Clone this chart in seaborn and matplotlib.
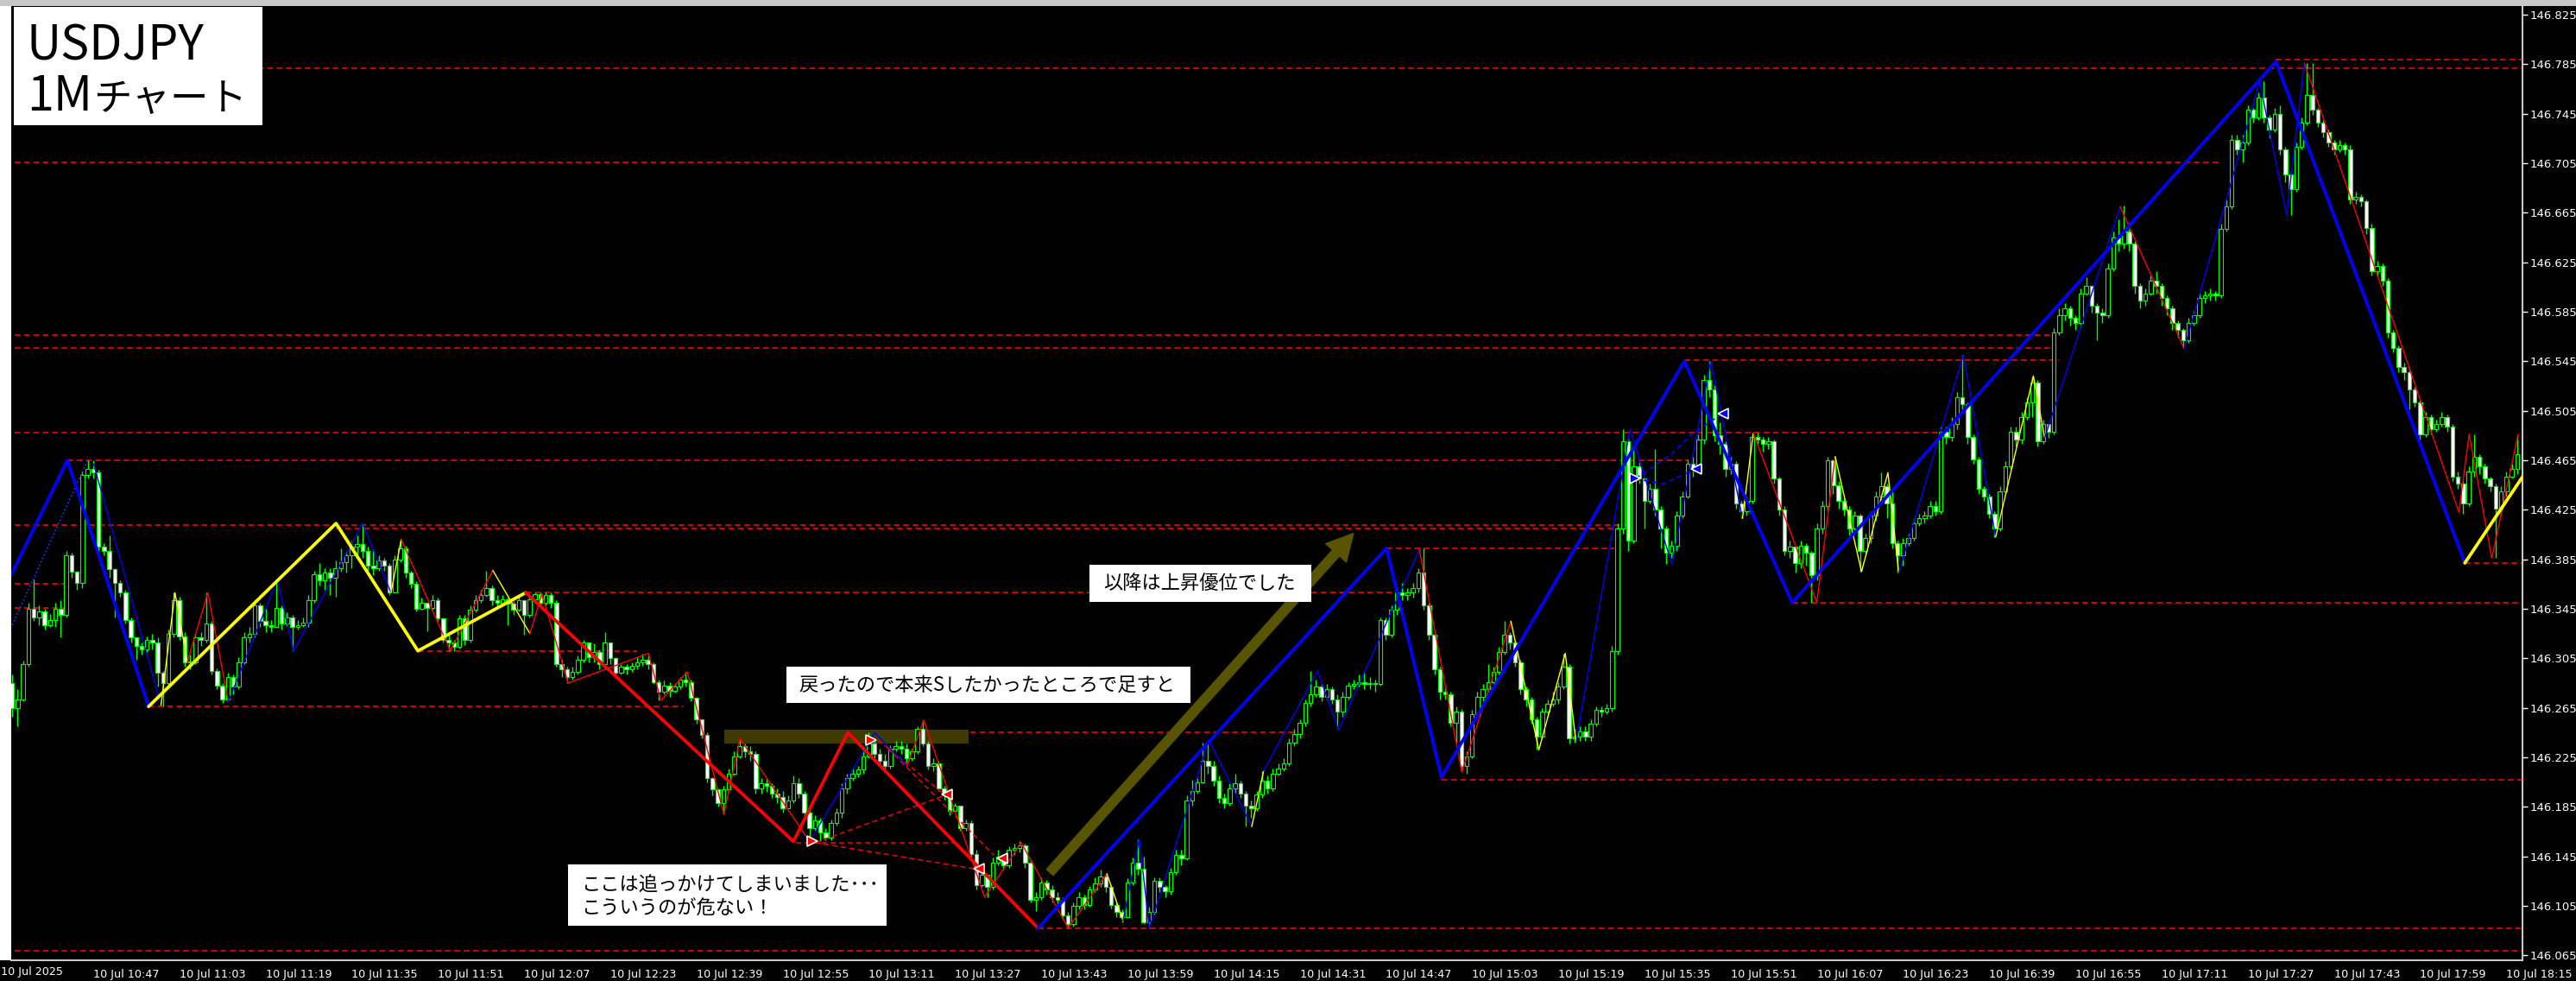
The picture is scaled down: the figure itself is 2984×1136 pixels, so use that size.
import matplotlib
matplotlib.use("Agg")
import matplotlib.pyplot as plt
from matplotlib.patches import Rectangle
import numpy as np
import pandas as pd
import seaborn as sns

# ---------------- data : prices in 0.001 JPY above 146.000 ----------------
BASE = 146.0
open_first = 290
close_k = [
    285,265,272,300,345,338,343,332,336,345,
    340,388,375,366,453,458,455,395,392,377,
    366,358,336,322,315,312,320,318,293,285,
    325,352,323,302,302,322,320,333,295,283,
    272,290,282,302,322,325,348,335,332,330,
    346,333,338,330,332,334,352,373,368,374,
    370,378,383,388,395,397,392,380,378,384,
    380,358,385,394,374,365,345,350,346,352,
    337,320,318,314,337,320,344,352,356,362,
    352,350,353,349,344,352,340,353,357,350,
    356,350,300,296,290,294,304,318,306,310,
    300,318,305,293,298,296,299,302,304,300,
    286,278,283,279,282,288,286,273,256,243,
    208,199,188,199,212,226,234,230,228,200,
    204,202,196,193,184,190,204,196,180,168,
    174,164,160,172,180,200,208,212,215,226,
    236,228,222,218,232,234,232,224,230,248,
    236,218,220,200,196,182,186,168,172,147,
    122,130,120,140,145,138,150,152,154,140,
    110,112,124,118,112,110,97,90,105,112,
    106,118,123,129,120,106,100,96,124,140,
    135,92,100,125,120,117,132,146,143,190,
    198,205,222,218,206,192,188,200,204,196,
    186,184,195,206,200,212,216,220,237,244,
    253,269,276,282,274,280,272,262,274,283,
    284,286,284,285,284,336,324,344,358,356,
    358,362,374,348,324,296,278,276,253,262,
    218,226,260,274,280,286,294,310,324,318,
    302,280,272,256,242,262,268,272,282,298,
    240,242,246,242,252,263,262,265,311,410,
    480,400,460,450,432,442,425,410,390,396,
    420,436,462,458,482,530,522,485,478,458,
    462,430,424,432,484,482,478,480,450,425,
    392,395,382,396,390,372,410,428,465,445,
    432,425,410,420,392,402,420,436,444,430,
    398,388,398,402,414,418,420,428,424,488,
    484,494,516,510,484,466,442,436,422,410,
    440,460,488,482,500,512,528,480,494,488,
    568,582,588,580,576,600,606,590,584,582,
    620,645,640,650,640,606,594,600,610,606,
    596,588,576,570,562,576,582,596,598,600,
    598,652,670,724,716,722,748,742,758,742,
    732,745,716,696,684,718,738,760,748,738,
    730,722,716,720,716,676,678,674,653,618,
    622,610,568,556,540,536,522,512,486,500,
    490,494,500,492,452,446,430,456,468,460,
    450,444,426,440,452,458,470,
]
high_k = [
    292,292,280,303,350,369,348,345,341,350,
    352,392,390,376,456,465,465,457,398,404,
    378,368,360,338,322,318,323,325,322,295,
    328,358,355,326,308,325,326,358,335,297,
    285,293,292,306,326,330,352,350,345,336,
    369,348,342,340,336,338,356,376,382,378,
    378,384,394,392,400,404,414,395,394,388,
    386,382,388,400,396,376,367,354,350,356,
    354,338,324,320,340,340,348,356,360,376,
    364,356,356,354,351,356,352,356,358,358,
    358,358,352,304,298,298,307,320,318,317,
    312,326,318,306,300,300,302,306,309,308,
    302,288,287,286,285,290,294,288,274,256,
    245,209,200,202,216,230,240,236,234,230,
    208,208,204,200,198,194,210,208,198,182,
    178,176,168,175,184,204,212,216,218,234,
    245,238,232,228,235,238,238,236,232,250,
    255,238,224,222,202,198,188,186,175,174,
    150,134,130,144,150,146,153,155,157,155,
    142,116,128,126,122,116,112,100,108,116,
    114,121,128,134,130,122,108,102,127,144,
    159,145,104,128,128,122,136,150,150,194,
    207,208,237,237,222,210,196,204,212,206,
    198,190,198,214,210,216,220,224,240,248,
    256,272,295,288,285,284,282,276,278,286,
    288,292,295,290,288,338,338,348,362,366,
    362,366,378,394,350,326,298,282,278,266,
    264,230,263,278,284,300,298,314,335,326,
    320,304,282,274,258,265,272,278,286,309,
    300,248,250,250,256,266,266,268,315,414,
    490,484,476,464,452,446,474,428,412,400,
    424,440,466,468,486,534,545,526,496,480,
    468,464,432,436,487,487,484,484,482,452,
    428,400,396,400,398,392,414,432,468,466,
    448,434,428,424,422,406,424,440,455,446,
    440,400,402,406,418,422,424,432,432,492,
    492,500,520,550,512,486,468,444,438,424,
    444,464,492,492,504,516,533,530,498,494,
    572,588,592,590,582,604,613,606,592,588,
    624,650,660,671,652,642,608,604,614,618,
    608,598,590,578,572,580,586,600,602,604,
    602,656,676,728,728,728,752,750,762,771,
    744,750,752,718,698,722,742,786,786,750,
    740,732,724,724,722,720,682,680,676,656,
    626,624,612,570,558,544,540,524,514,504,
    502,498,504,502,494,456,448,460,486,470,
    462,452,446,444,456,462,486,
]
low_k = [
    278,258,250,270,298,335,332,328,330,330,
    322,338,370,360,362,450,450,392,388,370,
    338,355,333,318,304,308,310,312,282,266,
    283,322,320,298,296,300,315,318,292,280,
    269,270,276,280,300,318,322,330,326,326,
    330,328,331,311,328,330,330,350,364,360,
    356,355,375,374,378,386,386,376,372,376,
    376,356,358,383,370,362,343,344,327,344,
    335,318,311,311,313,316,318,342,350,355,
    348,347,348,332,340,343,324,338,350,346,
    348,346,298,290,285,288,292,302,302,302,
    296,296,300,290,292,292,294,296,299,296,
    284,271,276,274,277,280,282,270,252,240,
    205,194,185,179,197,210,224,225,222,196,
    196,197,192,188,180,184,188,192,176,157,
    166,157,158,158,170,176,196,206,209,212,
    224,224,218,213,216,230,228,220,222,228,
    234,215,214,198,191,178,180,166,166,145,
    118,120,112,118,138,134,136,146,148,136,
    108,101,110,114,108,104,94,87,88,102,
    102,104,116,120,116,103,96,92,95,122,
    130,90,87,98,116,112,114,130,138,142,
    186,196,204,212,202,188,184,186,196,192,
    169,176,182,192,196,198,210,214,218,234,
    240,250,266,274,270,272,268,248,258,272,
    280,282,280,280,278,283,320,322,340,352,
    352,354,358,344,320,292,272,272,250,237,
    214,212,224,258,270,278,284,292,308,312,
    298,276,266,252,231,240,258,266,268,280,
    236,237,238,238,238,250,258,260,262,308,
    406,392,398,446,410,430,420,394,381,386,
    392,418,434,452,456,478,516,480,470,452,
    454,426,418,420,430,478,472,474,446,420,
    388,386,374,378,380,350,368,406,424,438,
    426,420,404,408,375,388,398,416,432,418,
    394,374,380,396,400,412,414,418,420,422,
    478,480,490,506,478,462,438,432,418,403,
    408,438,458,476,478,498,500,476,478,483,
    486,566,578,574,570,572,598,584,562,576,
    580,618,634,636,634,600,588,590,598,600,
    590,582,570,564,556,560,574,580,592,594,
    594,596,650,668,712,706,720,738,740,738,
    725,730,712,690,663,682,716,736,744,734,
    726,718,712,714,712,672,672,670,648,614,
    614,606,564,552,536,530,506,508,482,484,
    486,488,492,488,448,442,422,428,452,454,
    446,440,386,420,436,450,454,
]

time_labels = ["10 Jul 2025", "10 Jul 10:47", "10 Jul 11:03", "10 Jul 11:19", "10 Jul 11:35",
               "10 Jul 11:51", "10 Jul 12:07", "10 Jul 12:23", "10 Jul 12:39", "10 Jul 12:55",
               "10 Jul 13:11", "10 Jul 13:27", "10 Jul 13:43", "10 Jul 13:59", "10 Jul 14:15",
               "10 Jul 14:31", "10 Jul 14:47", "10 Jul 15:03", "10 Jul 15:19", "10 Jul 15:35",
               "10 Jul 15:51", "10 Jul 16:07", "10 Jul 16:23", "10 Jul 16:39", "10 Jul 16:55",
               "10 Jul 17:11", "10 Jul 17:27", "10 Jul 17:43", "10 Jul 17:59", "10 Jul 18:15"]
time_tick_bars = [0, 16, 32, 48, 64, 80, 96, 112, 128, 144, 160, 176, 192, 208, 224,
                  240, 256, 272, 288, 304, 320, 336, 352, 368, 384, 400, 416, 432, 448, 464]
price_labels = ["146.065", "146.105", "146.145", "146.185", "146.225", "146.265", "146.305",
                "146.345", "146.385", "146.425", "146.465", "146.505", "146.545", "146.585",
                "146.625", "146.665", "146.705", "146.745", "146.785", "146.825"]

# horizontal support / resistance levels: price, first bar, last bar
level_price = [146.069, 146.087, 146.207, 146.245, 146.266, 146.311, 146.358, 146.346,
               146.365, 146.394, 146.413, 146.410, 146.465, 146.487, 146.546, 146.556,
               146.566, 146.706, 146.782, 146.789, 146.350, 146.382]
level_from = [1.4, 191.3, 266.3, 156.2, 26.3, 76.3, 96.3, 1.4,
              1.4, 256.1, 1.4, 61.1, 11.2, 1.4, 311.4, 1.4,
              1.4, 1.4, 1.4, 421.2, 331.4, 456.3]
level_to = [467, 467, 467, 239.6, 125.5, 117.0, 258.3, 10.7,
            10.7, 298.4, 300.8, 300.8, 312.0, 360.3, 380.9, 380.1,
            380.1, 410.6, 467, 467, 467, 467]

# higher-timeframe zigzag (bar, price)
thick_zigzag = [
    ("#0000ff", [-1.3, 11.2, 26.3], [146.354, 146.465, 146.266]),
    ("#ffff00", [26.3, 61.1, 76.3, 96.3], [146.266, 146.414, 146.311, 146.358]),
    ("#ff0000", [96.3, 146.0, 156.1, 191.4], [146.358, 146.157, 146.245, 146.087]),
    ("#0000ff", [191.4, 256.1, 266.3, 311.4, 331.4, 421.2, 456.3],
     [146.087, 146.394, 146.209, 146.545, 146.350, 146.787, 146.382]),
    ("#ffff00", [456.3, 468.3], [146.382, 146.460]),
]
# lower-timeframe zigzag (bar, price in 0.001 above 146)
thin_zigzag = [
    ("#0000ff", [(16.1, 462), (28.6, 267)]),
    ("#ffff00", [(28.6, 267), (31.2, 358), (33.5, 302)]),
    ("#ff0000", [(33.5, 302), (37.3, 358), (41.1, 270)]),
    ("#0000ff", [(41.1, 270), (50.2, 369), (53.2, 311), (66.0, 414), (71.3, 358)]),
    ("#ffff00", [(71.3, 358), (73.2, 401)]),
    ("#ff0000", [(73.2, 401), (82.3, 311), (90.2, 376)]),
    ("#ffff00", [(90.2, 376), (97.1, 325)]),
    ("#ff0000", [(97.1, 325), (99.3, 357), (104.2, 285), (119.1, 309), (121.4, 271),
                 (126.3, 294), (133.1, 179), (136.1, 240), (149.0, 157)]),
    ("#0000ff", [(149.0, 157), (161.1, 245), (167.1, 218)]),
    ("#ff0000", [(167.1, 218), (170.2, 255), (181.5, 112), (188.3, 156), (197.0, 87), (204.2, 131)]),
    ("#ffff00", [(204.2, 131), (207.2, 93)]),
    ("#0000ff", [(207.2, 93), (210.2, 159), (212.1, 87), (223.1, 239), (231.1, 169)]),
    ("#ffff00", [(231.1, 169), (233.3, 214)]),
    ("#0000ff", [(233.3, 214), (243.3, 295), (247.2, 247), (262.2, 393)]),
    ("#ff0000", [(262.2, 393), (270.1, 213), (279.2, 335)]),
    ("#ffff00", [(279.2, 335), (284.4, 231), (289.3, 309), (291.3, 237)]),
    ("#0000ff", [(291.3, 237), (301.3, 490), (309.1, 381), (316.3, 545), (322.2, 418)]),
    ("#ffff00", [(322.2, 418), (324.2, 487)]),
    ("#ff0000", [(324.2, 487), (336.0, 350), (339.4, 468)]),
    ("#ffff00", [(339.4, 468), (344.3, 375), (349.2, 455), (351.2, 374)]),
    ("#0000ff", [(351.2, 374), (363.2, 550), (369.2, 403)]),
    ("#ffff00", [(369.2, 403), (376.2, 533), (378.3, 483)]),
    ("#0000ff", [(378.3, 483), (392.3, 670)]),
    ("#ff0000", [(392.3, 670), (404.2, 555)]),
    ("#0000ff", [(404.2, 555), (418.2, 771), (423.2, 663), (426.5, 786)]),
    ("#ff0000", [(426.5, 786), (455.2, 423), (457.1, 486), (461.3, 386), (466.2, 486)]),
]
dotted_blue = [(1.0, 332), (15.0, 465)]

# trade-plan dashed lines (bar0, price0, bar1, price1)
trade_lines = [(146.4, 146.156, 175.8, 146.156), (150.1, 146.156, 174.0, 146.194),
               (150.1, 146.156, 179.5, 146.135), (161.7, 146.239, 174.0, 146.195),
               (163.6, 146.232, 183.2, 146.146)]
blue_dashed_paths = [[(302.3, 146.450), (307.5, 146.446), (313.6, 146.458)],
                     [(302.3, 146.450), (309.0, 146.470), (313.0, 146.487), (318.6, 146.503)]]
markers_right_red = [(149.5, 146.157), (160.5, 146.239)]
markers_left_red = [(174.6, 146.195), (180.5, 146.135), (184.7, 146.143)]
markers_right_blue = [(302.3, 146.450)]
markers_left_blue = [(313.6, 146.458), (318.6, 146.503)]

zone_bars = (133.1, 178.5)
zone_prices = (146.236, 146.247)
arrow_start = (193.6, 146.132)
arrow_end = (250.0, 146.406)

title_line1 = "USDJPY"
title_line2_latin = "1M"
title_line2_kana = "チャート"
note_add = "戻ったので本来Sしたかったところで足すと"
note_up = "以降は上昇優位でした"
note_chase = ["ここは追っかけてしまいました･･･", "こういうのが危ない！"]

# ---------------- figure ----------------
W, H, DPI = 2984, 1136, 100
sns.set_style("dark", {"axes.facecolor": "black", "figure.facecolor": "black",
                       "axes.grid": False})
plt.rcParams["font.family"] = ["Noto Sans CJK JP", "DejaVu Sans"]

fig = plt.figure(figsize=(W / DPI, H / DPI), dpi=DPI, facecolor="black")
AX_L, AX_R, AX_T, AX_B = 13, 2922, 7, 1112
ax = fig.add_axes([AX_L / W, (H - AX_B) / H, (AX_R - AX_L) / W, (AX_B - AX_T) / H])
ax.set_facecolor("black")
ax.set_xlim(0.8, 467.0)
ax.set_ylim(146.061, 146.832)

n = min(len(close_k), len(high_k), len(low_k))
c = BASE + np.array(close_k[:n]) / 1000.0
hi = BASE + np.array(high_k[:n]) / 1000.0
lo = BASE + np.array(low_k[:n]) / 1000.0
o = np.concatenate([[BASE + open_first / 1000.0], c[:-1]])
df = pd.DataFrame({"bar": np.arange(n), "open": o, "high": hi, "low": lo, "close": c})

GREEN = "#00ff00"
# support / resistance levels
for p, a, b in zip(level_price, level_from, level_to):
    ax.hlines(p, a, b, colors="#e60000", linestyles=(0, (3.6, 2.4)), lw=1.3, zorder=1)

# resistance zone
ax.add_patch(Rectangle((zone_bars[0], zone_prices[0]), zone_bars[1] - zone_bars[0],
                       zone_prices[1] - zone_prices[0], color="#3e3a00", zorder=1.5, lw=0))

# candles
ax.vlines(df["bar"], df["low"], df["high"], color=GREEN, lw=1.0, zorder=3)
bottom = np.minimum(df["open"], df["close"])
height = np.maximum(np.abs(df["close"] - df["open"]), 0.0003)
fill = np.where(df["close"] < df["open"], "white", "black")
ax.bar(df["bar"], height, bottom=bottom, width=0.72, color=fill, edgecolor=GREEN,
       linewidth=0.8, zorder=4)

# trade lines
for x0, y0, x1, y1 in trade_lines:
    ax.plot([x0, x1], [y0, y1], color="#e60000", ls=(0, (3.6, 2.4)), lw=1.2, zorder=5)
for path in blue_dashed_paths:
    xs, ys = zip(*path)
    ax.plot(xs, ys, color="#0000ff", ls=(0, (3.6, 2.4)), lw=1.2, zorder=5)

# thin zigzag
for col, pts in thin_zigzag:
    xs = [q[0] for q in pts]
    ys = [BASE + q[1] / 1000.0 for q in pts]
    sns.lineplot(x=xs, y=ys, sort=False, estimator=None, color=col, linewidth=1.0,
                 ax=ax, zorder=6)
xs = [q[0] for q in dotted_blue]
ys = [BASE + q[1] / 1000.0 for q in dotted_blue]
sns.lineplot(x=xs, y=ys, sort=False, estimator=None, color="#3030ff", linewidth=1.2,
             linestyle=":", ax=ax, zorder=6)

# olive arrow
ax.annotate("", xy=arrow_end, xytext=arrow_start,
            arrowprops=dict(arrowstyle="simple,head_length=1.1,head_width=1.15,tail_width=0.38",
                            color="#585400", mutation_scale=20, shrinkA=0, shrinkB=0),
            zorder=6.5)

# thick zigzag
for col, xs, ys in thick_zigzag:
    sns.lineplot(x=xs, y=ys, sort=False, estimator=None, color=col, linewidth=2.7,
                 ax=ax, zorder=7)

# entry markers
for pts, mk, col in [(markers_right_red, ">", "#ff0000"), (markers_left_red, "<", "#ff0000"),
                     (markers_right_blue, ">", "#0000ff"), (markers_left_blue, "<", "#0000ff")]:
    xs, ys = zip(*pts)
    ax.plot(xs, ys, ls="none", marker=mk, ms=9, mfc=col, mec="white", mew=1.2, zorder=8)

# axes styling
for s in ["top", "left"]:
    ax.spines[s].set_visible(False)
for s in ["right", "bottom"]:
    ax.spines[s].set_color("#c8c8c8")
    ax.spines[s].set_linewidth(1.5)
ax.grid(False)
ax.yaxis.tick_right()
ax.set_yticks([float(t) for t in price_labels])
ax.set_yticklabels(price_labels, family="DejaVu Sans", fontsize=9.5, color="white")
ax.tick_params(axis="y", direction="out", length=4, width=1, colors="white", pad=2)
ax.set_xticks(time_tick_bars[1:])
ax.set_xticklabels(time_labels[1:], family="DejaVu Sans", fontsize=9.2, color="white", ha="left")
ax.tick_params(axis="x", direction="out", length=5, width=1, colors="white", pad=2)
ax.set_xlabel("")
ax.set_ylabel("")
fig.text(1 / W, 1 - 1119 / H, time_labels[0], family="DejaVu Sans", fontsize=9.2,
         color="white", ha="left", va="top")

# window chrome
fig.add_artist(Rectangle((0, 1 - AX_T / H), 1, AX_T / H, transform=fig.transFigure,
                         color="#c8c8c8", lw=0, zorder=10))
fig.add_artist(Rectangle((0, 1 - AX_B / H), AX_L / W, (AX_B - AX_T) / H,
                         transform=fig.transFigure, color="white", lw=0, zorder=10))


def box(x0, y0, x1, y1):
    fig.add_artist(Rectangle((x0 / W, 1 - y1 / H), (x1 - x0) / W, (y1 - y0) / H,
                             transform=fig.transFigure, facecolor="white",
                             edgecolor="none", zorder=11))


def label(x, y, s, size, va="center"):
    return fig.text(x / W, 1 - y / H, s, fontsize=size, color="black", ha="left", va=va,
                    zorder=12, family=["Noto Sans CJK JP", "DejaVu Sans"])


box(16, 8, 304, 145)
label(31, 70, title_line1, 40, va="baseline")
t1m = label(31, 128, title_line2_latin, 40, va="baseline")
renderer = fig.canvas.get_renderer()
bb = t1m.get_window_extent(renderer=renderer)
label(bb.x1 + 1, 128, title_line2_kana, 32, va="baseline")

box(911, 772, 1379, 814)
label(925, 793, note_add, 16)

box(1262, 654, 1519, 697)
label(1278, 676, note_up, 16)

box(658, 1001, 1027, 1072)
label(673, 1024, note_chase[0], 16)
label(673, 1052, note_chase[1], 16)

fig.savefig("out.png", dpi=DPI, facecolor="black")
